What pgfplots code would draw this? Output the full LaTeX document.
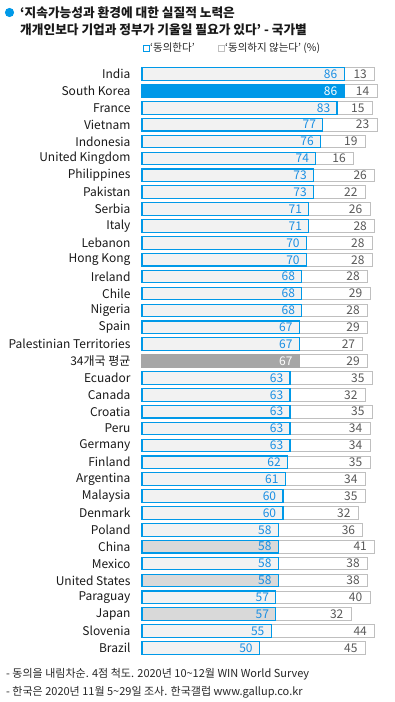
\documentclass[border=0pt]{standalone}
\usepackage{fontspec}
\setmainfont{Noto Sans CJK KR}
\usepackage{pgfplots}
\usepackage{pgfplotstable}
\pgfplotsset{compat=1.18}
\definecolor{gblue}{HTML}{0099E8}
\definecolor{lblue}{HTML}{1A8FE3}
\definecolor{gborder}{HTML}{BFBFBF}
\definecolor{lfill}{HTML}{F2F2F2}
\definecolor{mfill}{HTML}{D9D9D9}
\definecolor{afill}{HTML}{A6A6A6}
\definecolor{dgray}{HTML}{595959}

\pgfplotstableread[col sep=comma]{
idx,name,agree,disagree
0,India,86,13
1,South Korea,86,14
2,France,83,15
3,Vietnam,77,23
4,Indonesia,76,19
5,United Kingdom,74,16
6,Philippines,73,26
7,Pakistan,73,22
8,Serbia,71,26
9,Italy,71,28
10,Lebanon,70,28
11,Hong Kong,70,28
12,Ireland,68,28
13,Chile,68,29
14,Nigeria,68,28
15,Spain,67,29
16,Palestinian Territories,67,27
17,34개국 평균,67,29
18,Ecuador,63,35
19,Canada,63,32
20,Croatia,63,35
21,Peru,63,34
22,Germany,63,34
23,Finland,62,35
24,Argentina,61,34
25,Malaysia,60,35
26,Denmark,60,32
27,Poland,58,36
28,China,58,41
29,Mexico,58,38
30,United States,58,38
31,Paraguay,57,40
32,Japan,57,32
33,Slovenia,55,44
34,Brazil,50,45
}\data

\pgfplotsset{
  greyrow/.style={fill=mfill, draw=gblue, line width=1.1pt,
    restrict y to domain=#1:#1,
    every node near coord/.append style={text=lblue, fill=mfill, xshift=-3pt}},
}

\begin{document}
\begin{tikzpicture}
\useasboundingbox (0pt,0pt) rectangle (395pt,-702pt);

% title
\fill[gblue] (9.5pt,-12.5pt) circle (4.6pt);
\node[anchor=west, inner sep=0pt, font=\fontsize{12.7}{14}\selectfont\bfseries, text=black!90] at (20pt,-13pt) {‘지속가능성과 환경에 대한 실질적 노력은};
\node[anchor=west, inner sep=0pt, font=\fontsize{12.7}{14}\selectfont\bfseries, text=black!90] at (20pt,-30pt) {개개인보다 기업과 정부가 기울일 필요가 있다’ - 국가별};

% legend
\draw[gblue, line width=0.9pt, fill=white] (143pt,-45pt) rectangle (149pt,-51pt);
\node[anchor=west, inner sep=0pt, font=\fontsize{10.5}{12}\selectfont, text=black!85] at (150pt,-48pt) {‘동의한다’};
\draw[gborder, line width=0.9pt, fill=white] (218pt,-45pt) rectangle (224pt,-51pt);
\node[anchor=west, inner sep=0pt, font=\fontsize{10.5}{12}\selectfont, text=black!85] at (225pt,-48pt) {‘동의하지 않는다’ (\%)};

\begin{axis}[at={(142pt,-65.6pt)}, anchor=north west,
  scale only axis, width=235pt, height=590.8pt,
  xmin=0, xmax=100, ymin=-0.5, ymax=34.5, y dir=reverse,
  axis line style={draw=none}, xtick=\empty,
  major tick length=0pt,
  xbar, bar width=12.6pt, bar shift=0pt,
  clip=false,
  ytick={0,...,34},
  yticklabels from table={\data}{name},
  yticklabel style={font=\fontsize{12}{14}\selectfont, text=black!90, xshift=-8pt},
  nodes near coords, point meta=explicit symbolic,
  every node near coord/.append style={anchor=east, inner ysep=0.5pt, font=\fontsize{12}{14}\selectfont},
]
% full row (agree + disagree), labelled with the disagree share
\addplot[fill=white, draw=gborder, line width=0.9pt,
  every node near coord/.append style={text=dgray, xshift=-4pt}]
  table[x expr=\thisrow{agree}+\thisrow{disagree}, y=idx, meta=disagree] {\data};
% agree share
\addplot[fill=lfill, draw=gblue, line width=1.1pt,
  every node near coord/.append style={text=lblue, xshift=-3pt}]
  table[x=agree, y=idx, meta=agree] {\data};
% South Korea
\addplot[fill=gblue, draw=gblue, line width=1.1pt, restrict y to domain=1:1,
  every node near coord/.append style={text=white, fill=gblue, xshift=-3pt}]
  table[x=agree, y=idx, meta=agree] {\data};
% 34-country average
\addplot[fill=afill, draw=afill, line width=1.1pt, restrict y to domain=17:17,
  every node near coord/.append style={text=white, fill=afill, xshift=-3pt}]
  table[x=agree, y=idx, meta=agree] {\data};
% China, United States, Japan
\addplot[greyrow=28] table[x=agree, y=idx, meta=agree] {\data};
\addplot[greyrow=30] table[x=agree, y=idx, meta=agree] {\data};
\addplot[greyrow=32] table[x=agree, y=idx, meta=agree] {\data};
\end{axis}

% footnotes
\node[anchor=west, inner sep=0pt, font=\fontsize{11}{13}\selectfont, text=black!85] at (6pt,-674pt) {- 동의을 내림차순. 4점 척도. 2020년 10\textasciitilde 12월 WIN World Survey};
\node[anchor=west, inner sep=0pt, font=\fontsize{11}{13}\selectfont, text=black!85] at (6pt,-692pt) {- 한국은 2020년 11월 5\textasciitilde 29일 조사. 한국갤럽 www.gallup.co.kr};
\end{tikzpicture}
\end{document}
